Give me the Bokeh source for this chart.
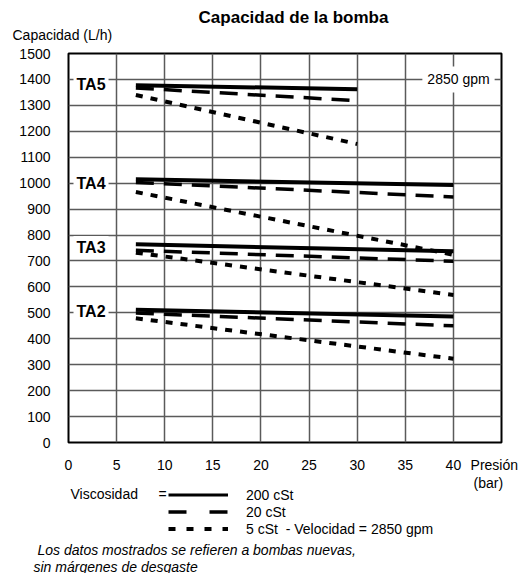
from bokeh.plotting import figure
from bokeh.layouts import column
from bokeh.models import Range1d, FixedTicker, Label, Legend, LegendItem
from bokeh.core.properties import value
from bokeh.embed import file_html
from bokeh.resources import INLINE

# ---- data ----
pressure = [7, 40]
pressure_ta5 = [7, 30]

ta5_200 = [1378, 1362]
ta5_20 = [1367, 1318]
ta5_5 = [1340, 1151]

ta4_200 = [1015, 993]
ta4_20 = [1003, 947]
ta4_5 = [966, 724]

ta3_200 = [764, 737]
ta3_20 = [741, 699]
ta3_5 = [732, 569]

ta2_200 = [512, 486]
ta2_20 = [499, 450]
ta2_5 = [479, 323]

model_names = ["TA5", "TA4", "TA3", "TA2"]
model_label_y = [1382, 1000, 752, 504]
x_ticks = [0, 5, 10, 15, 20, 25, 30, 35, 40]
y_ticks = list(range(0, 1501, 100))
viscosity_labels = ["200 cSt", "20 cSt", "5 cSt  - Velocidad = 2850 gpm"]

FONT = "Liberation Sans"
W = 528

# ---- header (title + y caption) ----
HH = 45
head = figure(width=W, height=HH, output_backend="svg", toolbar_location=None,
              x_range=Range1d(0, W), y_range=Range1d(HH, 0),
              x_axis_type=None, y_axis_type=None, min_border=0, title=None,
              frame_align=False)
head.outline_line_color = None
head.text(x=[293], y=[17], text=["Capacidad de la bomba"], text_align="center",
          text_baseline="middle", text_font=value(FONT), text_font_size="17px",
          text_font_style="bold", text_color="black")
head.text(x=[12], y=[34], text=["Capacidad (L/h)"], text_align="left",
          text_baseline="middle", text_font=value(FONT), text_font_size="14px",
          text_color="black")

# ---- main chart ----
FL, FR, FT, FB = 68, 27, 8, 23
FW, FH = 433, 399
MH = FT + FH + FB
X0, X1 = 0, 45
Y0, Y1 = 0, 1500


def dx(px):
    return X0 + (px - FL) / FW * (X1 - X0)


p = figure(width=W, height=MH, output_backend="svg", toolbar_location=None,
           x_range=Range1d(X0, X1), y_range=Range1d(Y0, Y1),
           min_border_left=FL, min_border_right=FR, min_border_top=FT,
           min_border_bottom=FB, title=None, frame_align=False)

p.background_fill_color = "white"
p.border_fill_color = "white"
p.outline_line_color = "black"
p.outline_line_width = 2

for ax in (p.xaxis[0], p.yaxis[0]):
    ax.axis_line_color = None
    ax.major_tick_line_color = None
    ax.minor_tick_line_color = None
    ax.major_label_text_font = FONT
    ax.major_label_text_font_size = "14px"
    ax.major_label_text_color = "black"

p.xaxis[0].ticker = FixedTicker(ticks=x_ticks + [44.25])
p.xaxis[0].major_label_overrides = {44.25: "Presión"}
p.yaxis[0].ticker = FixedTicker(ticks=y_ticks)
p.xaxis[0].major_label_standoff = 8
p.yaxis[0].major_label_standoff = 12

p.xgrid[0].ticker = FixedTicker(ticks=x_ticks)
p.ygrid[0].ticker = FixedTicker(ticks=y_ticks)
for g in (p.xgrid[0], p.ygrid[0]):
    g.grid_line_color = "#5a5a5a"
    g.grid_line_width = 1.5

solid = dict(line_color="black", line_width=4)
dashed = dict(line_color="black", line_width=3.5, line_dash="18 10")
dotted = dict(line_color="black", line_width=4, line_dash="7 8")

for xs, a, b, c in [
    (pressure_ta5, ta5_200, ta5_20, ta5_5),
    (pressure, ta4_200, ta4_20, ta4_5),
    (pressure, ta3_200, ta3_20, ta3_5),
    (pressure, ta2_200, ta2_20, ta2_5),
]:
    p.line(xs, a, **solid)
    p.line(xs, b, **dashed)
    p.line(xs, c, **dotted)

for name, yv in zip(model_names, model_label_y):
    p.add_layout(Label(x=dx(73), y=yv, text=name, text_align="left",
                       text_baseline="middle", text_font=FONT,
                       text_font_size="16px", text_font_style="bold",
                       text_color="black", background_fill_color="white",
                       padding=3))

p.add_layout(Label(x=dx(458), y=1400, text="2850 gpm", text_align="center",
                   text_baseline="middle", text_font=FONT, text_font_size="14px",
                   text_color="black", background_fill_color="white", padding=5))

# ---- footer (axis unit, legend, note) ----
FTOP = FT + FH + FB + HH  # page y where footer starts
FHGT = 573 - FTOP
foot = figure(width=W, height=FHGT, output_backend="svg", toolbar_location=None,
              x_range=Range1d(0, W), y_range=Range1d(FHGT, 0),
              x_axis_type=None, y_axis_type=None, min_border=0, title=None,
              frame_align=False)
foot.outline_line_color = None


def fy(py):
    return py - FTOP


foot.text(x=[473], y=[fy(482)], text=["(bar)"], text_align="left",
          text_baseline="middle", text_font=value(FONT), text_font_size="14px",
          text_color="black")
foot.text(x=[70, 158], y=[fy(493), fy(493)], text=["Viscosidad", "="],
          text_align="left", text_baseline="middle", text_font=value(FONT),
          text_font_size="14px", text_color="black")

NAN = float("nan")
k200 = foot.line([NAN], [NAN], line_color="black", line_width=3)
k20 = foot.line([NAN], [NAN], line_color="black", line_width=3.5, line_dash="18 23")
k5 = foot.line([NAN], [NAN], line_color="black", line_width=4, line_dash="7 11")

legend = Legend(items=[
    LegendItem(label=viscosity_labels[0], renderers=[k200]),
    LegendItem(label=viscosity_labels[1], renderers=[k20]),
    LegendItem(label=viscosity_labels[2], renderers=[k5]),
], location=(168, 36), orientation="vertical",
    glyph_width=60, glyph_height=17, label_height=17, spacing=0,
    label_standoff=18, padding=0, margin=0,
    border_line_color=None, background_fill_alpha=0,
    label_text_font=FONT, label_text_font_size="14px", label_text_color="black")
foot.add_layout(legend, "center")

foot.text(x=[37], y=[fy(549)], text=["Los datos mostrados se refieren a bombas nuevas,"],
          text_align="left", text_baseline="middle", text_font=value(FONT),
          text_font_size="14px", text_font_style="italic", text_color="black")
foot.text(x=[33], y=[fy(566)], text=["sin márgenes de desgaste"],
          text_align="left", text_baseline="middle", text_font=value(FONT),
          text_font_size="14px", text_font_style="italic", text_color="black")

layout = column(head, p, foot, spacing=0)
open("out.html", "w").write(file_html(layout, INLINE))
